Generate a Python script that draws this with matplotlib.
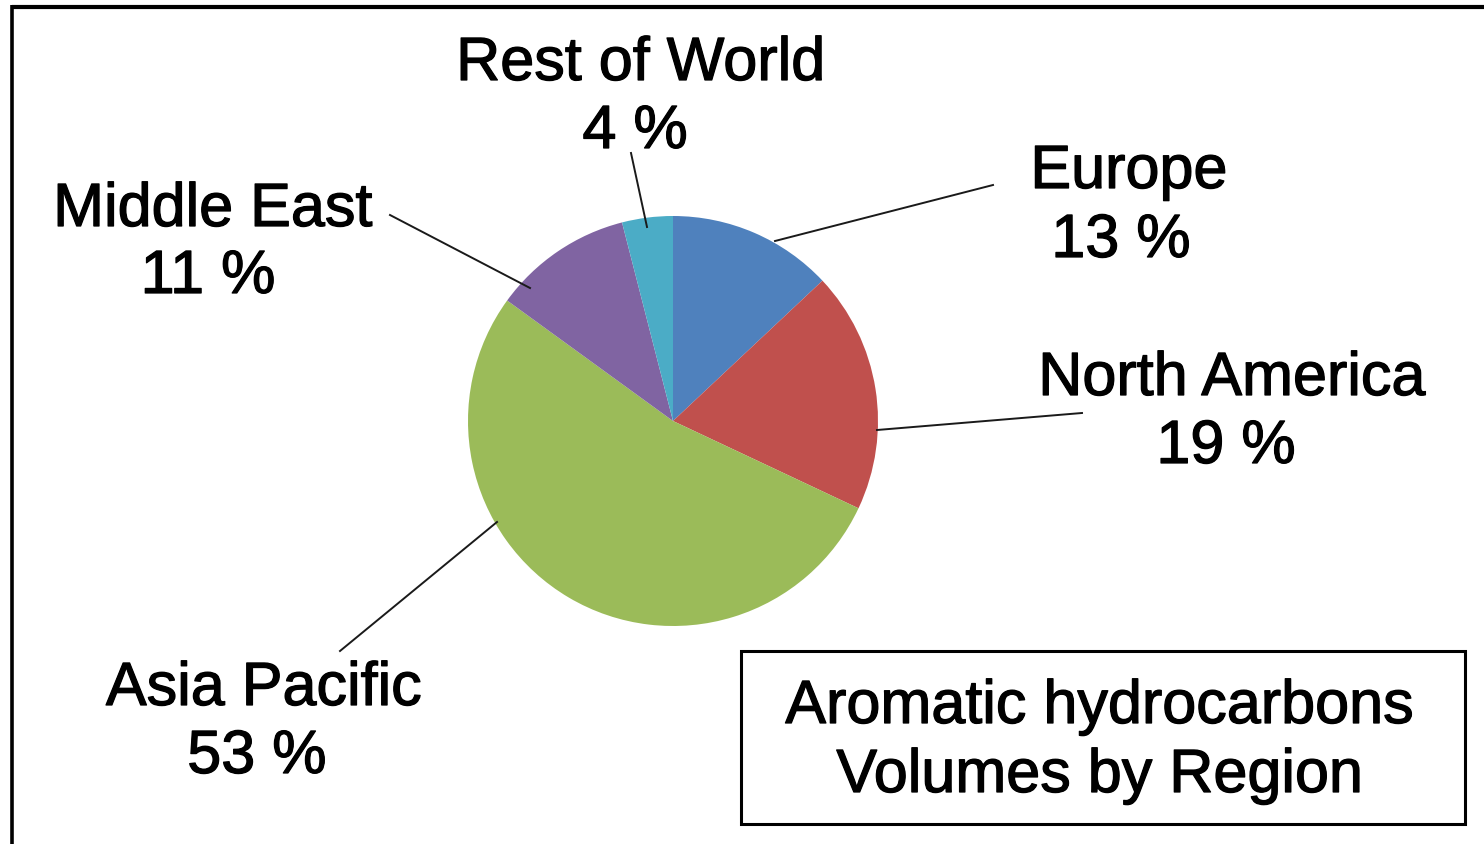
import matplotlib
matplotlib.use("Agg")
import matplotlib.pyplot as plt
from matplotlib.lines import Line2D
from matplotlib.patches import Rectangle
import matplotlib.patheffects as pe

# ---- data ----
regions = ["Europe", "North America", "Asia Pacific", "Middle East", "Rest of World"]
shares = [13, 19, 53, 11, 4]
colors = ["#4F81BD", "#C0504D", "#9BBB59", "#8064A2", "#4BACC6"]
title_lines = ["Aromatic hydrocarbons", "Volumes by Region"]

# ---- layout (pixel positions, y measured from top) ----
W, H = 1484, 844
pie_center = (673, 421)
pie_radius = 205
name_pos = [(1129, 188), (1232, 395), (264, 705), (213, 226), (641, 80)]
pct_pos = [(1121, 257), (1226, 463), (257, 773), (208, 293), (635, 148)]
leader = [((775, 241), (993, 185)),
          ((877, 430), (1082, 413)),
          ((497, 522), (340, 651)),
          ((530, 288), (390, 215)),
          ((647, 227), (631, 153))]
box = (741, 651, 1465, 824)
title_pos = [(1100, 723), (1100, 792)]

FONT = "Liberation Sans"
FS = 44
heavy = [pe.withStroke(linewidth=0.9, foreground="black")]

fig = plt.figure(figsize=(W / 100, H / 100), dpi=100)
fig.patch.set_facecolor("white")
ax = fig.add_axes([0, 0, 1, 1])

def fy(y):
    return H - y

ax.pie(shares, colors=colors, startangle=90, counterclock=False,
       center=(pie_center[0], fy(pie_center[1])), radius=pie_radius,
       frame=True, wedgeprops=dict(linewidth=0))
ax.set_xlim(0, W)
ax.set_ylim(0, H)
ax.set_aspect("equal")
ax.axis("off")

# leader lines
for (x0, y0), (x1, y1) in leader:
    ax.add_line(Line2D([x0, x1], [fy(y0), fy(y1)], color="#1a1a1a", lw=1.4))

# labels
for name, val, (nx, ny), (px, py) in zip(regions, shares, name_pos, pct_pos):
    ax.text(nx, fy(ny), name, ha="center", va="baseline", fontsize=FS,
            family=FONT, color="black", path_effects=heavy)
    ax.text(px, fy(py), f"{val} %", ha="center", va="baseline", fontsize=FS,
            family=FONT, color="black", path_effects=heavy)

# title box
bx0, by0, bx1, by1 = box
ax.add_patch(Rectangle((bx0, fy(by1)), bx1 - bx0, by1 - by0, fill=False,
                       edgecolor="black", lw=2.2))
for line, (tx, ty) in zip(title_lines, title_pos):
    ax.text(tx, fy(ty), line, ha="center", va="baseline", fontsize=FS,
            family=FONT, color="black", path_effects=heavy)

# outer frame (top and left edges)
ax.add_line(Line2D([11.5, W], [fy(7), fy(7)], color="black", lw=3.0,
                   solid_capstyle="butt"))
ax.add_line(Line2D([11.5, 11.5], [fy(5), 0], color="black", lw=2.6,
                   solid_capstyle="butt"))

fig.savefig("out.png", dpi=100, facecolor="white")
